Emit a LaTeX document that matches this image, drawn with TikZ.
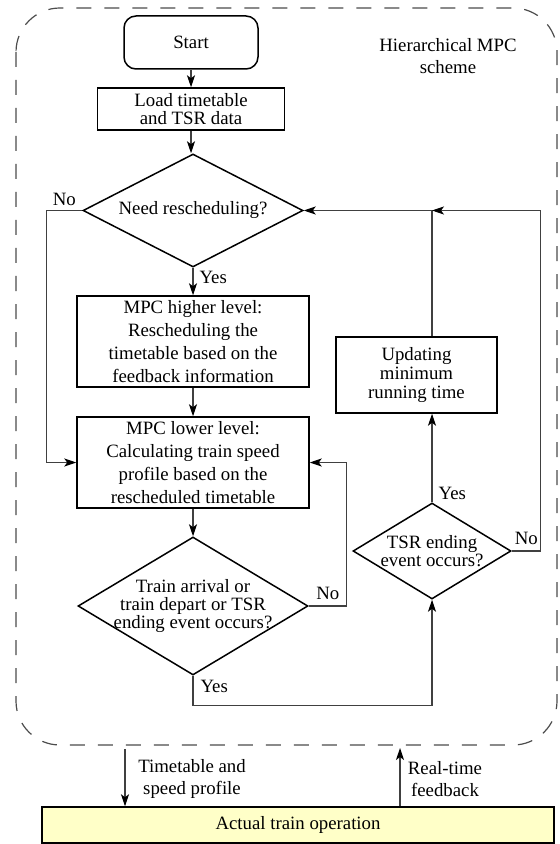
\documentclass[tikz,border=0pt]{standalone}
\usepackage{fontspec}
\setmainfont{Liberation Serif}
\usetikzlibrary{shapes.geometric,arrows.meta}

\definecolor{opfill}{RGB}{255,255,200}

\tikzset{
    box/.style={draw, line width=0.75pt, align=center, inner sep=1pt,
        font=\fontsize{9.4}{11.4}\selectfont},
    tightbox/.style={box, font=\fontsize{9.4}{9.2}\selectfont},
    decision/.style={diamond, draw, line width=0.75pt, align=center,
        aspect=1.7, inner sep=-4pt, font=\fontsize{9.4}{9.2}\selectfont},
    line/.style={draw=black!75, line width=0.55pt},
    arrow/.style={line, -{Stealth[length=6pt,width=4pt,inset=1.5pt,black]}},
    lbl/.style={inner sep=0pt, align=center, font=\fontsize{9.4}{11.4}\selectfont}
}

\begin{document}
\begin{tikzpicture}[x=0.5pt,y=-0.5pt]
    \useasboundingbox (0,0) rectangle (559,844);

    % Dashed frame of the MPC scheme
    \draw[black!70, line width=0.6pt, dash pattern=on 7.5pt off 6.5pt,
        rounded corners=22pt] (16,8) rectangle (557,745);
    \node[lbl] (title) at (448,56) {Hierarchical MPC\\scheme};

    % Main column
    \node[box, rounded corners=6pt, minimum width=67pt, minimum height=26.5pt]
        (start) at (191,42.5) {Start};
    \node[tightbox, minimum width=93.5pt, minimum height=21pt]
        (load) at (191,109) {Load timetable\\and TSR data};
    \node[decision, minimum width=110pt, minimum height=56.5pt]
        (need) at (193,210.5) {Need rescheduling?};
    \node[box, minimum width=116pt, minimum height=45.5pt]
        (high) at (193,341.5) {MPC higher level:\\Rescheduling the\\timetable based on the\\feedback information};
    \node[box, minimum width=116pt, minimum height=45.5pt]
        (low) at (193,462.5) {MPC lower level:\\Calculating train speed\\profile based on the\\rescheduled timetable};
    \node[decision, minimum width=115pt, minimum height=69pt]
        (event) at (193,606) {Train arrival or\\train depart or TSR\\ending event occurs?};

    % Right column
    \node[decision, minimum width=79pt, minimum height=48pt]
        (tsr) at (432,551) {TSR ending\\event occurs?};
    \node[box, minimum width=80.5pt, minimum height=38pt, font=\fontsize{9.4}{9.6}\selectfont]
        (upd) at (416.5,375) {Updating\\minimum\\running time};

    % Train operation below the frame
    \node[box, fill=opfill, minimum width=256pt, minimum height=18pt]
        (act) at (298,825) {Actual train operation};

    % Main flow
    \draw[arrow] (start) -- (load);
    \draw[arrow] (load.south) -- (load.south |- need.north);
    \draw[arrow] (need) -- node[lbl, right=3pt, pos=0.35] {Yes} (high);
    \draw[arrow] (high) -- (low);
    \draw[arrow] (low) -- (event);

    % Loops
    \draw[arrow] (need.west) -- node[lbl, above=2pt] {No} ++(-36,0) |- (low.west);
    \draw[arrow] (event.east) -- node[lbl, above=3pt] {No} ++(38,0) |- (low.east);
    \draw[arrow] (event.south) -- node[lbl, right=3.5pt, pos=0.35] {Yes} ++(0,30) -| (tsr.south);
    \draw[arrow] (tsr.north) -- node[lbl, right=3pt, pos=0.1] {Yes} (tsr.north |- upd.south);

    \coordinate (join) at (tsr.north |- need.east);
    \draw[line] (upd.north -| join) -- (join);
    \draw[arrow] (join) -- (need.east);
    \draw[arrow] (tsr.east) -- node[lbl, above=3pt] {No} ++(29,0) |- (join);

    % Exchange with the train operation
    \coordinate (down) at (125,749);
    \coordinate (up) at (400,748);
    \draw[arrow] (down) -- (down |- act.north);
    \draw[arrow] (up |- act.north) -- (up);
    \node[lbl] (plan) at (192,779) {Timetable and\\speed profile};
    \node[lbl] (fb) at (445,779) {Real-time\\feedback};

\end{tikzpicture}
\end{document}
